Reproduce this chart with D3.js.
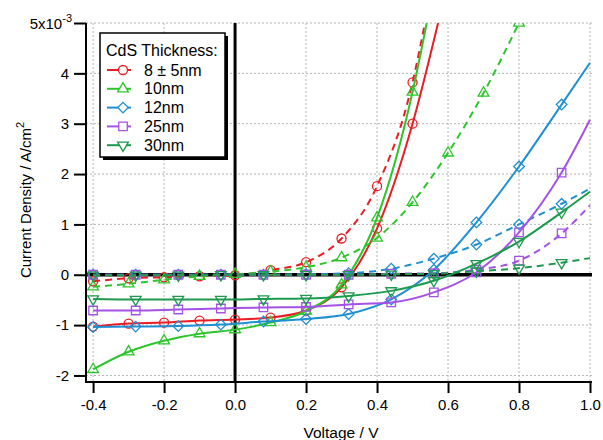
<!DOCTYPE html>
<html>
<head>
<meta charset="utf-8">
<script src="https://cdn.jsdelivr.net/npm/d3@7"></script>
<style>
  body { margin: 0; background: #fff; }
  svg { font-family: "Liberation Sans", Arial, sans-serif; }
</style>
</head>
<body>
<svg id="chart"></svg>
<script>
// voltage points where markers sit
const vStep10 = [-0.4, -0.3, -0.2, -0.1, 0.0, 0.1, 0.2, 0.3, 0.4, 0.5];
const vStep12 = [-0.4, -0.28, -0.16, -0.04, 0.08, 0.2, 0.32, 0.44, 0.56, 0.68, 0.8, 0.92];

// current density (x10^-3 A/cm^2), dashed = dark, solid = light
const cds8Dark   = [-0.13, -0.07, -0.05, -0.03, -0.01, 0.09, 0.25, 0.72, 1.76, 3.82];
const cds8Light  = [-1.03, -0.97, -0.95, -0.91, -0.89, -0.85, -0.71, -0.25, 0.92, 3.0];
const cds10Dark  = [-0.24, -0.18, -0.1, -0.03, 0.01, 0.06, 0.15, 0.34, 0.73, 1.44, 2.42, 3.61, 5.0];
const cds10Light = [-1.88, -1.53, -1.31, -1.17, -1.09, -0.95, -0.72, -0.2, 1.13, 3.63];
const cds12Dark  = [0, 0, 0, 0, 0, 0.01, 0.03, 0.12, 0.32, 0.6, 1.0, 1.41];
const cds12Light = [-1.04, -1.03, -1.02, -0.99, -0.93, -0.88, -0.78, -0.49, 0.1, 1.04, 2.15, 3.38];
const cds25Dark  = [0, 0, 0, 0, 0, 0, 0, 0.02, 0.03, 0.1, 0.28, 0.82];
const cds25Light = [-0.71, -0.71, -0.69, -0.67, -0.65, -0.64, -0.59, -0.55, -0.35, 0.05, 0.84, 2.03];
const cds30Dark  = [-0.01, -0.01, -0.01, 0, 0, 0, 0, 0.01, 0.02, 0.07, 0.13, 0.24];
const cds30Light = [-0.48, -0.49, -0.49, -0.49, -0.48, -0.47, -0.42, -0.32, -0.12, 0.22, 0.66, 1.24];

// where each curve leaves the plot (no marker there)
const tails = {
  cds8Dark: [0.535, 5.0], cds8Light: [0.572, 5.0], cds10Light: [0.54, 5.0],
  cds12Dark: [1.0, 1.71], cds12Light: [1.0, 4.21],
  cds25Dark: [1.0, 1.38], cds25Light: [1.0, 3.08],
  cds30Dark: [1.0, 0.33], cds30Light: [1.0, 1.65]
};

const legendLabels = ["8 \u00b1 5nm", "10nm", "12nm", "25nm", "30nm"];
const xTicks = [-0.4, -0.2, 0.0, 0.2, 0.4, 0.6, 0.8, 1.0];
const yTicks = [-2, -1, 0, 1, 2, 3, 4, 5];

const colors = ["#ec1c24", "#2cc52c", "#1e8fd2", "#a452e6", "#1d9a4e"];
const symbols = ["circle", "triangle", "diamond", "square", "triangleDown"];

const series = [
  { name: "cds8Dark", v: vStep10, j: cds8Dark, k: 0, dashed: true },
  { name: "cds8Light", v: vStep10, j: cds8Light, k: 0, dashed: false },
  { name: "cds10Dark", v: [...vStep10, 0.6, 0.7, 0.8], j: cds10Dark, k: 1, dashed: true },
  { name: "cds10Light", v: vStep10, j: cds10Light, k: 1, dashed: false },
  { name: "cds12Dark", v: vStep12, j: cds12Dark, k: 2, dashed: true },
  { name: "cds12Light", v: vStep12, j: cds12Light, k: 2, dashed: false },
  { name: "cds25Dark", v: vStep12, j: cds25Dark, k: 3, dashed: true },
  { name: "cds25Light", v: vStep12, j: cds25Light, k: 3, dashed: false },
  { name: "cds30Dark", v: vStep12, j: cds30Dark, k: 4, dashed: true },
  { name: "cds30Light", v: vStep12, j: cds30Light, k: 4, dashed: false }
];

const width = 603, height = 440;
const svg = d3.select("#chart").attr("width", width).attr("height", height);

const pLeft = 86, pRight = 590, pTop = 23, pBottom = 382;
const x = d3.scaleLinear().domain([-0.42, 1.0]).range([pLeft, pRight]);
const y = d3.scaleLinear().domain([-2.13, 5]).range([pBottom, pTop]);

svg.append("defs").append("clipPath").attr("id", "plot")
  .append("rect").attr("x", pLeft).attr("y", pTop).attr("width", pRight - pLeft + 2).attr("height", pBottom - pTop);

// dotted grid
const grid = svg.append("g").attr("stroke", "#b4b4b4").attr("stroke-width", 1).attr("stroke-dasharray", "2,2");
grid.selectAll(".gx").data(xTicks).join("line")
  .attr("x1", d => x(d)).attr("x2", d => x(d)).attr("y1", pTop).attr("y2", pBottom);
grid.selectAll(".gy").data(yTicks).join("line")
  .attr("x1", pLeft).attr("x2", pRight + 2).attr("y1", d => y(d)).attr("y2", d => y(d));

// zero lines
svg.append("line").attr("x1", x(0)).attr("x2", x(0)).attr("y1", pTop).attr("y2", pBottom)
  .attr("stroke", "#000").attr("stroke-width", 3);
svg.append("line").attr("x1", pLeft).attr("x2", pRight + 2).attr("y1", y(0)).attr("y2", y(0))
  .attr("stroke", "#000").attr("stroke-width", 3.5);

// axes
const xAxis = svg.append("g").attr("transform", `translate(0,${pBottom})`)
  .call(d3.axisBottom(x).tickValues(xTicks).tickSize(11).tickPadding(6).tickFormat(d3.format(".1f")));
const yAxis = svg.append("g").attr("transform", `translate(${pLeft},0)`)
  .call(d3.axisLeft(y).tickValues(yTicks).tickSize(12).tickPadding(5).tickFormat(d => d === 5 ? "" : d));
[xAxis, yAxis].forEach(a => {
  a.select(".domain").remove();
  a.selectAll(".tick line").attr("stroke", "#000").attr("stroke-width", 2);
  a.selectAll("text").attr("fill", "#000").style("font-size", "15px")
    .style("font-family", "'Liberation Sans', Arial, sans-serif");
});
xAxis.selectAll("text").text(d => d3.format(".1f")(d).replace("\u2212", "-"));
yAxis.selectAll("text").text(d => d === 5 ? "" : String(d));
svg.append("line").attr("x1", pLeft).attr("x2", pLeft).attr("y1", pTop).attr("y2", pBottom + 1)
  .attr("stroke", "#000").attr("stroke-width", 2);
svg.append("line").attr("x1", pLeft - 1).attr("x2", pRight + 2).attr("y1", pBottom).attr("y2", pBottom)
  .attr("stroke", "#000").attr("stroke-width", 2);

const topLbl = svg.append("text").attr("x", pLeft - 14).attr("y", y(5) + 6)
  .attr("text-anchor", "end").style("font-size", "15px");
topLbl.append("tspan").text("5x10");
topLbl.append("tspan").attr("dy", -7).style("font-size", "11px").text("-3");

// axis titles
svg.append("text").attr("x", 341).attr("y", 438).attr("text-anchor", "middle")
  .style("font-size", "15.5px").text("Voltage / V");
const yl = svg.append("text").attr("transform", "translate(31,200) rotate(-90)")
  .attr("text-anchor", "middle").style("font-size", "15px");
yl.append("tspan").text("Current Density / A/cm");
yl.append("tspan").attr("dy", -7).style("font-size", "11px").text("2");

// marker paths
function markerPath(s) {
  if (s === "circle") return d3.symbol(d3.symbolCircle, 64)();
  if (s === "triangle") return d3.symbol(d3.symbolTriangle, 50)();
  if (s === "triangleDown") return d3.symbol(d3.symbolTriangle, 50)();
  if (s === "diamond") return d3.symbol(d3.symbolSquare, 56)();
  return d3.symbol(d3.symbolSquare, 72)();
}
function markerRot(s) {
  if (s === "triangleDown") return " rotate(180)";
  if (s === "diamond") return " rotate(45)";
  return "";
}

const line = d3.line().x(d => x(d[0])).y(d => y(d[1])).curve(d3.curveMonotoneX);
const plot = svg.append("g").attr("clip-path", "url(#plot)");

series.forEach(s => {
  const pts = s.v.map((v, i) => [v, s.j[i]]);
  const all = tails[s.name] ? [...pts, tails[s.name]] : pts;
  const col = colors[s.k];
  plot.append("path").datum(all).attr("d", line)
    .attr("fill", "none").attr("stroke", col).attr("stroke-width", 2)
    .attr("stroke-dasharray", s.dashed ? "7,5" : null);
  plot.selectAll(null).data(pts).join("path")
    .attr("d", markerPath(symbols[s.k]))
    .attr("transform", d => `translate(${x(d[0])},${y(d[1])})${markerRot(symbols[s.k])}`)
    .attr("fill", "none").attr("stroke", col).attr("stroke-width", 1.3);
});

// legend
const lg = svg.append("g");
lg.append("rect").attr("x", 103).attr("y", 36).attr("width", 125).attr("height", 124).attr("fill", "#000");
lg.append("rect").attr("x", 100).attr("y", 33).attr("width", 125).attr("height", 124)
  .attr("fill", "#fff").attr("stroke", "#000").attr("stroke-width", 1.5);
lg.append("text").attr("x", 106).attr("y", 56).style("font-size", "16px").text("CdS Thickness:");
legendLabels.forEach((lab, i) => {
  const cy = 70 + i * 18.8;
  lg.append("line").attr("x1", 107).attr("x2", 131).attr("y1", cy).attr("y2", cy)
    .attr("stroke", colors[i]).attr("stroke-width", 2);
  lg.append("path").attr("d", markerPath(symbols[i]))
    .attr("transform", `translate(123,${cy})${markerRot(symbols[i])}`)
    .attr("fill", "#fff").attr("stroke", colors[i]).attr("stroke-width", 1.3);
  lg.append("text").attr("x", 144).attr("y", cy + 5.5).style("font-size", "16px").text(lab);
});
</script>
</body>
</html>
